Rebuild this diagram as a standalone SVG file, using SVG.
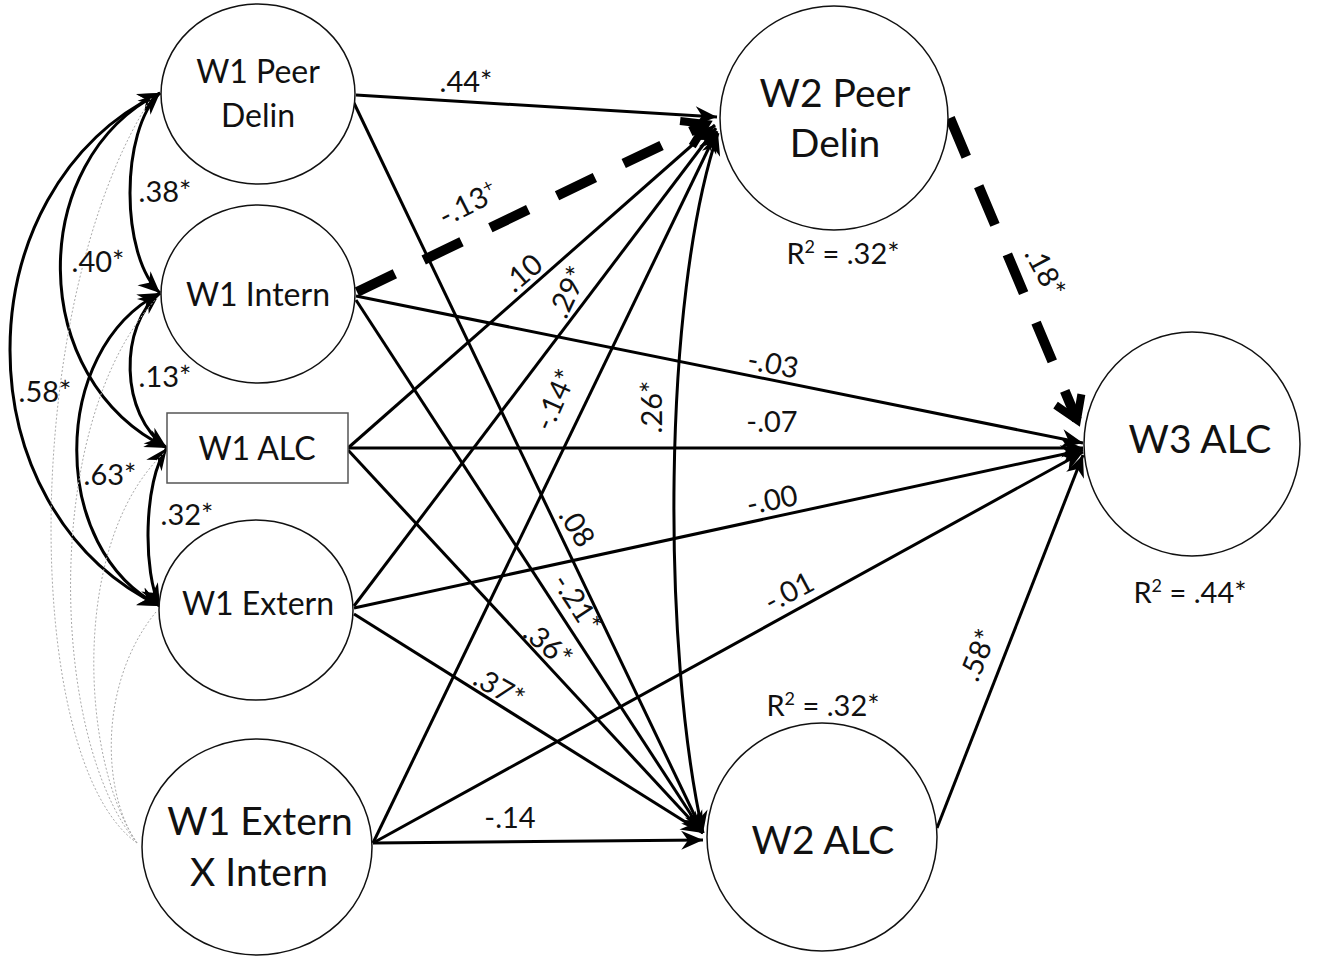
<svg xmlns="http://www.w3.org/2000/svg" width="1322" height="962" viewBox="0 0 1322 962">
<style>
.node{fill:#fff;stroke:#111;stroke-width:1.5}
.box{fill:#fff;stroke:#555;stroke-width:1.5}
.nt{font-family:Lato,"Liberation Sans",sans-serif;font-size:32px;fill:#111;text-anchor:middle}
.nb{font-family:Lato,"Liberation Sans",sans-serif;font-size:39px;fill:#111;text-anchor:middle}
.lb{font-family:Lato,"Liberation Sans",sans-serif;font-size:29px;fill:#111;text-anchor:middle}
.e{fill:none;stroke:#000;stroke-width:3}
.cv{fill:none;stroke:#000;stroke-width:3}
.d{fill:none;stroke:#000;stroke-width:10;stroke-dasharray:42 32}
.dot{fill:none;stroke:#aaa;stroke-width:1;stroke-dasharray:2 2}
</style>
<defs>
<marker id="a" markerUnits="userSpaceOnUse" markerWidth="30" markerHeight="30" viewBox="-20 -10 22 20" refX="0" refY="0" orient="auto-start-reverse">
<path d="M0,0 L-16,-7 L-11,0 L-16,7 Z" fill="#000"/>
</marker>
<marker id="ad" markerUnits="userSpaceOnUse" markerWidth="40" markerHeight="40" viewBox="-30 -20 36 40" refX="0" refY="0" orient="auto">
<path d="M-22,-14 L0,0 L-22,14" fill="none" stroke="#000" stroke-width="8" stroke-dasharray="none"/>
</marker>
</defs>
<rect width="1322" height="962" fill="#fff"/>

<g id="connectors">
<path class="cv" d="M160,93 C120,130 120,256 160,293" marker-start="url(#a)" marker-end="url(#a)"/>
<path class="cv" d="M160,93 C26,160 26,380 167,448" marker-start="url(#a)" marker-end="url(#a)"/>
<path class="cv" d="M160,93 C-40,190 -40,510 160,606" marker-start="url(#a)" marker-end="url(#a)"/>
<path class="cv" d="M160,293 C119,325 119,415 167,448" marker-start="url(#a)" marker-end="url(#a)"/>
<path class="cv" d="M160,293 C49,350 49,550 160,606" marker-start="url(#a)" marker-end="url(#a)"/>
<path class="cv" d="M167,448 C143,480 143,575 160,606" marker-start="url(#a)" marker-end="url(#a)"/>
<path class="dot" d="M137,843 C20,760 20,300 152,97"/>
<path class="dot" d="M137,843 C50,740 40,420 158,297"/>
<path class="dot" d="M137,843 C80,760 70,540 165,452"/>
<path class="dot" d="M137,843 C100,790 100,680 156,612"/>
<path class="e" d="M356,95 L717,117" marker-end="url(#a)"/>
<path class="d" d="M357,292 L706,124" marker-end="url(#ad)"/>
<path class="e" d="M348,448 L715,125" marker-end="url(#a)"/>
<path class="e" d="M354,606 L716,128" marker-end="url(#a)"/>
<path class="e" d="M373,843 L717,131" marker-end="url(#a)"/>
<path class="e" d="M718,133 C662,300 662,650 703,833" marker-start="url(#a)" marker-end="url(#a)"/>
<path class="e" d="M354,103 L703,833" marker-end="url(#a)"/>
<path class="e" d="M356,300 L703,833" marker-end="url(#a)"/>
<path class="e" d="M348,450 L703,833" marker-end="url(#a)"/>
<path class="e" d="M354,614 L703,833" marker-end="url(#a)"/>
<path class="e" d="M373,843 L703,840" marker-end="url(#a)"/>
<path class="d" d="M950,118 L1077,420" marker-end="url(#ad)"/>
<path class="e" d="M356,296 L1083,443" marker-end="url(#a)"/>
<path class="e" d="M348,448 L1083,448" marker-end="url(#a)"/>
<path class="e" d="M354,608 L1083,450" marker-end="url(#a)"/>
<path class="e" d="M373,843 L1083,452" marker-end="url(#a)"/>
<path class="e" d="M937,828 L1083,455" marker-end="url(#a)"/>
</g>

<g id="labels">
<text class="lb" x="165" y="202">.38*</text>
<text class="lb" x="98" y="272">.40*</text>
<text class="lb" x="45" y="402">.58*</text>
<text class="lb" x="165" y="387">.13*</text>
<text class="lb" x="110" y="485">.63*</text>
<text class="lb" x="187" y="525">.32*</text>
<text class="lb" x="466" y="92">.44*</text>
<text class="lb" x="468" y="214" transform="rotate(-27 468 204)">-.13<tspan font-size="18" dy="-11">+</tspan></text>
<text class="lb" x="523" y="283" transform="rotate(-40 523 273)">.10</text>
<text class="lb" x="568" y="302" transform="rotate(-65 568 292)">.29*</text>
<text class="lb" x="555" y="410" transform="rotate(-66 555 400)">-.14*</text>
<text class="lb" x="652" y="417" transform="rotate(-90 652 407)">.26*</text>
<text class="lb" x="577" y="537" transform="rotate(58 577 527)">.08</text>
<text class="lb" x="577" y="613" transform="rotate(57 577 603)">-.21*</text>
<text class="lb" x="548" y="655" transform="rotate(40 548 645)">.36*</text>
<text class="lb" x="499" y="698" transform="rotate(30 499 688)">.37*</text>
<text class="lb" x="510" y="828">-.14</text>
<text class="lb" x="773" y="374" transform="rotate(11 773 364)">-.03</text>
<text class="lb" x="772" y="432">-.07</text>
<text class="lb" x="772" y="510" transform="rotate(-12 772 500)">-.00</text>
<text class="lb" x="789" y="602" transform="rotate(-28 789 592)">-.01</text>
<text class="lb" x="978" y="665" transform="rotate(-68 978 655)">.58*</text>
<text class="lb" x="1045" y="282" transform="rotate(62 1045 272)">.18*</text>
<text class="lb" x="843" y="264">R<tspan font-size="18" dy="-11">2</tspan><tspan dy="11"> = .32*</tspan></text>
<text class="lb" x="1190" y="603">R<tspan font-size="18" dy="-11">2</tspan><tspan dy="11"> = .44*</tspan></text>
<text class="lb" x="823" y="716">R<tspan font-size="18" dy="-11">2</tspan><tspan dy="11"> = .32*</tspan></text>
</g>

<g id="w1peer"><ellipse class="node" cx="258" cy="94" rx="97" ry="90"/><text class="nt" x="258" y="83">W1 Peer</text><text class="nt" x="258" y="127">Delin</text></g>
<g id="w1intern"><ellipse class="node" cx="258" cy="294" rx="97" ry="89"/><text class="nt" x="258" y="306">W1 Intern</text></g>
<g id="w1alc"><rect class="box" x="167" y="413" width="181" height="70"/><text class="nt" x="257" y="460">W1 ALC</text></g>
<g id="w1extern"><ellipse class="node" cx="256" cy="610" rx="97" ry="90"/><text class="nt" x="258" y="615">W1 Extern</text></g>
<g id="w1exi"><ellipse class="node" cx="257" cy="847" rx="115" ry="108"/><text class="nb" x="260" y="835" font-size="37">W1 Extern</text><text class="nb" x="259" y="886" font-size="37">X Intern</text></g>
<g id="w2peer"><ellipse class="node" cx="834" cy="118" rx="114" ry="112"/><text class="nb" x="835" y="107">W2 Peer</text><text class="nb" x="835" y="157">Delin</text></g>
<g id="w2alc"><ellipse class="node" cx="822" cy="837" rx="115" ry="114"/><text class="nb" x="823" y="854">W2 ALC</text></g>
<g id="w3alc"><ellipse class="node" cx="1192" cy="444" rx="108" ry="112"/><text class="nb" x="1200" y="453">W3 ALC</text></g>
</svg>
